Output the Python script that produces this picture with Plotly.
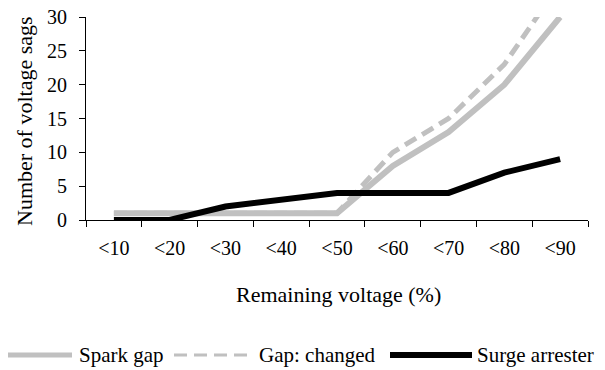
import plotly.graph_objects as go

categories = ["<10", "<20", "<30", "<40", "<50", "<60", "<70", "<80", "<90"]
spark_gap = [1, 1, 1, 1, 1, 8, 13, 20, 30]
gap_changed = [1, 1, 1, 1, 1, 10, 15, 23, 35]
surge_arrester = [0, 0, 2, 3, 4, 4, 4, 7, 9]
y_ticks = [0, 5, 10, 15, 20, 25, 30]
series_names = ["Spark gap", "Gap: changed", "Surge arrester"]

# The page body has an 8px default margin, so the figure is sized to fit the window.
OFF = 8
W, H = 605 - OFF, 370 - OFF
L, R, T, B = 86 - OFF, 17, 17 - OFF, 150
PW, PH = W - L - R, H - T - B

def px(x):  # page pixel -> paper x
    return (x - OFF - L) / PW

def py(y):  # page pixel -> paper y
    return (H - B - (y - OFF)) / PH

FONT = "Liberation Serif"
GREY = "#c0c0c0"

fig = go.Figure()
fig.add_trace(go.Scatter(x=categories, y=spark_gap, mode="lines", name=series_names[0],
                         line=dict(color=GREY, width=6)))
fig.add_trace(go.Scatter(x=categories, y=gap_changed, mode="lines", name=series_names[1],
                         line=dict(color=GREY, width=5, dash="13px,7px")))
fig.add_trace(go.Scatter(x=categories, y=surge_arrester, mode="lines", name=series_names[2],
                         line=dict(color="black", width=6), cliponaxis=False))

fig.update_layout(
    template="none",
    width=W, height=H,
    margin=dict(l=L, r=R, t=T, b=B, autoexpand=False),
    paper_bgcolor="white", plot_bgcolor="white",
    showlegend=False,
    font=dict(family=FONT, size=20, color="black"),
)
fig.update_xaxes(
    type="category", range=[-0.5, 8.5], automargin=False,
    showline=True, linecolor="black", linewidth=1,
    ticks="outside", ticklen=6, tickcolor="black", tickwidth=1,
    tickson="boundaries", showgrid=False, zeroline=False,
    tickfont=dict(family=FONT, size=20), ticklabelstandoff=10,
    ticklabeloverflow="allow",
)
fig.update_yaxes(
    range=[0, 30], tickvals=y_ticks, automargin=False,
    showline=True, linecolor="black", linewidth=1,
    ticks="outside", ticklen=6, tickcolor="black", tickwidth=1,
    showgrid=False, zeroline=False,
    tickfont=dict(family=FONT, size=20), ticklabelstandoff=8,
    ticklabeloverflow="allow",
)

# axis titles
fig.add_annotation(text="Number of voltage sags", xref="paper", yref="paper",
                   x=px(24), y=py(121), textangle=-90, showarrow=False,
                   xanchor="center", yanchor="middle", font=dict(family=FONT, size=22))
fig.add_annotation(text="Remaining voltage (%)", xref="paper", yref="paper",
                   x=px(338), y=py(294), showarrow=False,
                   xanchor="center", yanchor="middle", font=dict(family=FONT, size=22))

# manual legend
ly = 355
legend_items = [
    (0, 72, 77, dict(color=GREY, width=5)),
    (174, 250, 257, dict(color=GREY, width=3, dash="13px,7px")),
    (390, 472, 475, dict(color="black", width=6)),
]
for (x0, x1, tx, ln), name in zip(legend_items, series_names):
    fig.add_shape(type="line", xref="paper", yref="paper",
                  x0=px(x0), x1=px(x1), y0=py(ly), y1=py(ly), line=ln)
    fig.add_annotation(text=name, xref="paper", yref="paper", x=px(tx), y=py(ly),
                       showarrow=False, xanchor="left", yanchor="middle",
                       font=dict(family=FONT, size=21))

fig.write_html("out.html")
